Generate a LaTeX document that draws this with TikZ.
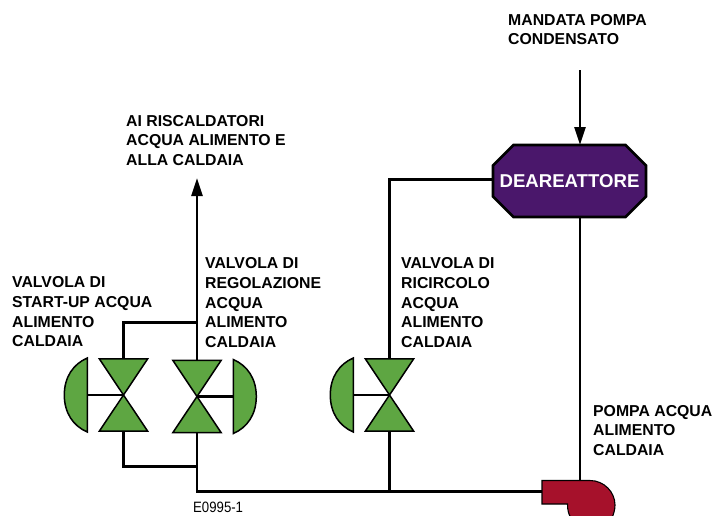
\documentclass[tikz,border=0pt]{standalone}
\usepackage{fontspec}
\setmainfont{Liberation Sans}
\usepackage{tikz}
\usetikzlibrary{shapes.misc, arrows.meta}
\definecolor{verdevalvola}{HTML}{5EA642}
\definecolor{violadeae}{HTML}{4A176B}
\definecolor{rossopompa}{HTML}{A6112B}
\tikzstyle{pipe} = [draw=black, line width=2.6pt]
\tikzstyle{arrow} = [pipe, -{Triangle[length=18pt, width=11pt]}]
\tikzstyle{valve} = [rectangle, minimum width=48pt, minimum height=72pt, inner sep=0pt]
\tikzstyle{symbol} = [draw=black, line width=1.5pt, fill=verdevalvola, line join=miter]
\tikzstyle{deaebox} = [chamfered rectangle, chamfered rectangle xsep=15pt, chamfered rectangle ysep=14pt, minimum width=151pt, minimum height=72pt, inner sep=0pt, draw=black, line width=2.6pt, fill=violadeae, text=white, font=\fontsize{18.6}{20}\selectfont\bfseries]
\tikzstyle{label} = [anchor=north west, align=left, inner sep=0pt, font=\fontsize{15.8}{19.7}\selectfont\bfseries]
% valve body: name, x, y
\newcommand{\valvola}[3]{
	\node (#1) [valve] at (#2,#3) {};
	\draw [symbol] (#1.north west) -- (#1.north east) -- (#1.south west) -- (#1.south east) -- cycle;
}
% actuator: name, x, y, side
\newcommand{\attuatore}[4]{
	\coordinate (#1) at (#2,#3);
	\draw [symbol] (#2,#3-37) .. controls +(#4*14,6) and +(0,-18) .. ++(#4*23,37) .. controls +(0,18) and +(#4*14,-6) .. (#2,#3+37) -- cycle;
}
\begin{document}
\begin{tikzpicture}[x=1pt, y=-1pt]

\useasboundingbox (0,0) rectangle (712,515);
\clip (0,0) rectangle (712,515);
%==============================================
%Valvole
%==============================================
\valvola{valvA}{123.5}{395}
\valvola{valvB}{197}{396.5}
\valvola{valvC}{389.5}{395}
\attuatore{attA}{87.3}{395}{-1}
\attuatore{attB}{233.3}{396.5}{1}
\attuatore{attC}{353.3}{395}{-1}

%Nodi==============================================
\node (deae) [deaebox] at (569.5,181) {DEAREATTORE};
\coordinate (mandata) at (580,70);
\coordinate (deaeN) at (580,145);
\coordinate (deaeS) at (580,217);
\coordinate (deaeW) at (493.5,179.5);
\coordinate (caldaia) at (197,178);
\coordinate (nodoA) at (197,322.5);
\coordinate (nodoB) at (197,466.5);
\coordinate (nodoC) at (197,491.5);
\coordinate (nodoD) at (389.5,491.5);
\coordinate (pompaN) at (580,481);
\coordinate (pompaW) at (542,491.5);

%Testi==============================================
\node (txtA) [label] at (12,276.5) {VALVOLA DI\\START-UP ACQUA\\ALIMENTO\\CALDAIA};
\node (txtB) [label] at (205,257.5) {VALVOLA DI\\REGOLAZIONE\\ACQUA\\ALIMENTO\\CALDAIA};
\node (txtC) [label] at (401,257.5) {VALVOLA DI\\RICIRCOLO\\ACQUA\\ALIMENTO\\CALDAIA};
\node (txtD) [label] at (126,115) {AI RISCALDATORI\\ACQUA ALIMENTO E\\ALLA CALDAIA};
\node (txtE) [label] at (508,14) {MANDATA POMPA\\CONDENSATO};
\node (txtF) [label] at (593,405) {POMPA ACQUA\\ALIMENTO\\CALDAIA};
\node (codice) [anchor=north west, inner sep=0pt, xscale=0.88, font=\fontsize{15}{15}\selectfont] at (193,502) {E0995-1};

%==============================================
\draw [arrow] (mandata) -- (deaeN);
\draw [arrow] (valvB.north) -- (caldaia);
\draw [pipe] (valvA.north) |- (nodoA);
\draw [pipe] (valvA.south) |- (nodoB);
\draw [pipe] (valvB.south) -- (nodoC) -- (nodoD) -- (pompaW);
\draw [pipe] (valvC.south) -- (nodoD);
\draw [pipe] (valvC.north) |- (deaeW);
\draw [pipe] (deaeS) -- (pompaN);
\draw [pipe] (attA) -- (valvA.center);
\draw [pipe] (attB) -- (valvB.center);
\draw [pipe] (attC) -- (valvC.center);

%Pompa==============================================
\draw [line width=1.1pt, fill=rossopompa] (542,480.5) -- (590,480.5) .. controls (604,480.5) and (615,492) .. (615,505) .. controls (615,510) and (613.5,514) .. (612,518) -- (571,518) .. controls (568.5,514) and (567.5,510) .. (567.5,504) -- (542,504) -- cycle;
\end{tikzpicture}
\end{document}
